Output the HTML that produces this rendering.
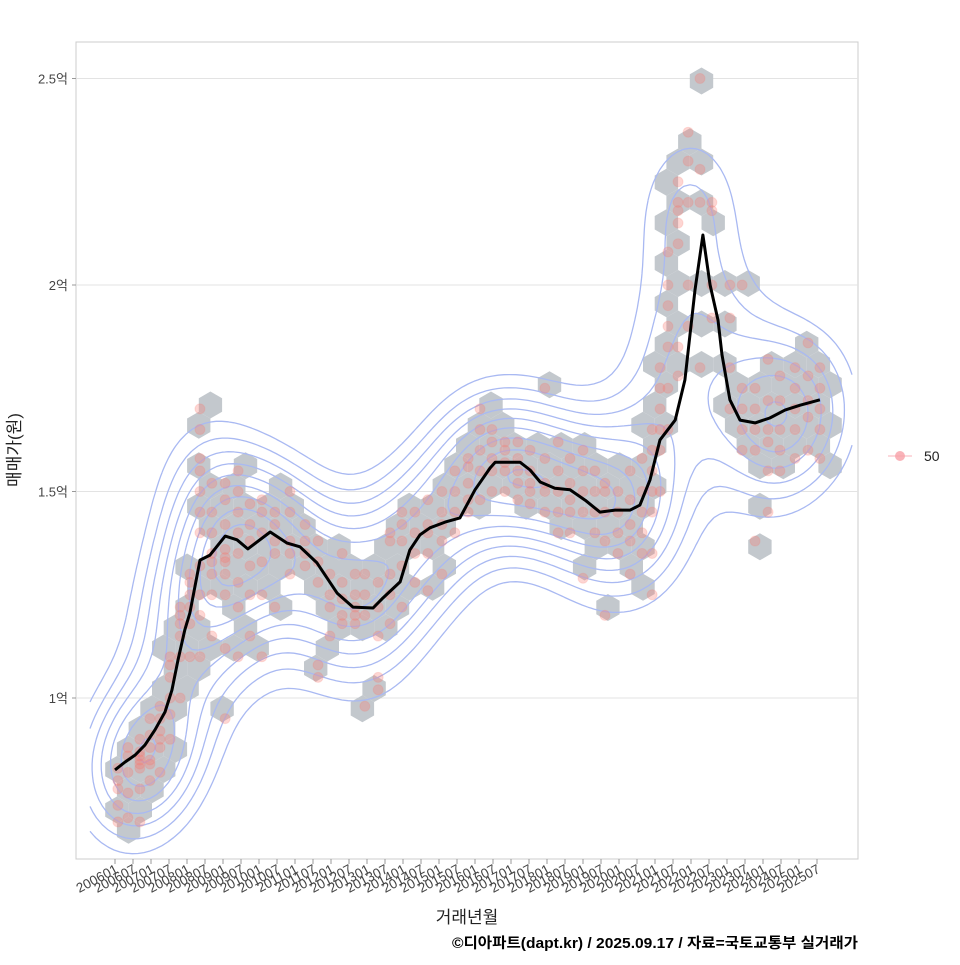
<!DOCTYPE html>
<html><head><meta charset="utf-8">
<style>
body{margin:0;background:#fff;}
svg text{font-family:"Liberation Sans","Noto Sans CJK KR",sans-serif;}
</style></head>
<body>
<svg id="chart" width="960" height="960" viewBox="0 0 960 960" xmlns="http://www.w3.org/2000/svg">
<rect x="0" y="0" width="960" height="960" fill="#fff"/>
<rect x="76" y="42" width="782" height="817" fill="#fff" stroke="#cccccc" stroke-width="1"/>
<g id="grid"></g>
<g id="hexes"></g>
<g id="contours"></g>
<g id="points"></g>
<g id="line"></g>
<g id="axes"></g>
<text x="20" y="450" font-size="17" fill="#222" text-anchor="middle" transform="rotate(-90 20 450)">매매가(원)</text>
<text x="467" y="923" font-size="17" fill="#222" text-anchor="middle">거래년월</text>
<text x="858" y="948" font-size="14.5" font-weight="bold" fill="#000" text-anchor="end" textLength="406" lengthAdjust="spacingAndGlyphs">©디아파트(dapt.kr) / 2025.09.17 / 자료=국토교통부 실거래가</text>
<g>
<line x1="888" y1="456" x2="912" y2="456" stroke="#f8a0a8" stroke-width="1" opacity="0.8"/>
<circle cx="900" cy="456" r="5" fill="#f8a0a8" opacity="0.8"/>
<text x="924" y="461" font-size="14" fill="#222">50</text>
</g>
</svg>
<script>
const yTicks=[1,1.5,2,2.5];
const yTickLabels=["1억","1.5억","2억","2.5억"];
const xTickYears=[];const xTickLabels=[];
for(let y=2006;y<=2025;y++){xTickYears.push(y);xTickLabels.push(y+"01");xTickYears.push(y+0.5);xTickLabels.push(y+"07");}
const lineYears=[2006.00,2006.28,2006.56,2006.83,2007.11,2007.39,2007.58,2007.75,2007.94,2008.08,2008.36,2008.64,2009.06,2009.39,2009.69,2010.31,2010.78,2011.14,2011.61,2012.17,2012.61,2013.17,2013.44,2013.92,2014.19,2014.47,2014.75,2015.17,2015.58,2016.00,2016.42,2016.56,2017.25,2017.53,2017.81,2018.22,2018.64,2019.06,2019.47,2019.89,2020.31,2020.58,2020.86,2021.14,2021.56,2021.83,2022.11,2022.33,2022.53,2022.75,2022.86,2023.08,2023.36,2023.78,2024.19,2024.61,2025.03,2025.58];
const lineValues=[0.826,0.845,0.862,0.886,0.923,0.966,1.019,1.092,1.165,1.206,1.334,1.346,1.392,1.383,1.361,1.402,1.375,1.366,1.327,1.254,1.220,1.218,1.242,1.281,1.358,1.395,1.412,1.426,1.436,1.504,1.557,1.571,1.571,1.552,1.523,1.508,1.504,1.479,1.450,1.455,1.455,1.467,1.528,1.625,1.673,1.770,1.988,2.121,2.000,1.915,1.831,1.722,1.673,1.666,1.678,1.697,1.709,1.722];
const ptYears=[2006.08,2006.36,2006.69,2006.97,2007.25,2007.53,2007.81,2008.08,2008.36,2008.69,2009.06,2009.42,2009.75,2010.08,2010.44,2010.86,2011.28,2011.64,2011.97,2012.31,2012.67,2012.94,2013.31,2013.64,2013.97,2014.33,2014.69,2015.08,2015.44,2015.81,2016.14,2016.47,2016.83,2017.19,2017.53,2017.94,2018.31,2018.64,2019.0,2019.33,2019.61,2019.97,2020.31,2020.64,2020.92,2021.14,2021.36,2021.64,2021.92,2022.25,2022.58,2023.08,2023.42,2023.78,2024.14,2024.47,2024.89,2025.25,2025.58];
const ptValues=[[0.70,0.74,0.78,0.80,0.83],[0.71,0.77,0.82,0.86,0.88],[0.70,0.78,0.83,0.84,0.85,0.86,0.87,0.90],[0.80,0.84,0.85,0.88,0.91,0.95],[0.82,0.88,0.90,0.92,0.95,0.98],[0.90,0.96,1.00,1.05,1.08,1.10],[1.00,1.10,1.15,1.18,1.20,1.22],[1.10,1.18,1.22,1.25,1.28,1.30],[1.10,1.20,1.25,1.32,1.40,1.45,1.50,1.55,1.58,1.65,1.70],[1.15,1.25,1.30,1.33,1.35,1.40,1.45,1.52],[0.95,1.12,1.25,1.30,1.33,1.34,1.36,1.42,1.48,1.52],[1.10,1.22,1.28,1.35,1.40,1.45,1.50,1.55],[1.15,1.25,1.32,1.38,1.42,1.47],[1.10,1.25,1.33,1.40,1.45,1.48],[1.22,1.35,1.38,1.42,1.45],[1.30,1.35,1.38,1.45,1.50],[1.32,1.35,1.38,1.42],[1.05,1.08,1.28,1.33,1.38],[1.15,1.22,1.25,1.30],[1.18,1.20,1.24,1.28,1.35],[1.18,1.20,1.22,1.25,1.30],[0.98,1.20,1.25,1.30],[1.02,1.05,1.15,1.22,1.28],[1.18,1.25,1.30,1.38,1.40],[1.22,1.32,1.38,1.42,1.45],[1.28,1.35,1.40,1.45],[1.26,1.35,1.40,1.42,1.48],[1.30,1.38,1.42,1.45,1.50],[1.40,1.45,1.50,1.55],[1.45,1.48,1.52,1.56,1.58],[1.48,1.55,1.60,1.65,1.70],[1.50,1.55,1.58,1.62,1.65],[1.50,1.55,1.57,1.60,1.62],[1.48,1.52,1.55,1.58,1.62],[1.47,1.50,1.52,1.55,1.60],[1.45,1.50,1.52,1.58,1.75],[1.40,1.45,1.50,1.55,1.62],[1.40,1.45,1.48,1.52,1.58],[1.29,1.45,1.50,1.55,1.60],[1.40,1.45,1.50,1.55],[1.20,1.38,1.45,1.50,1.52],[1.35,1.40,1.45,1.50],[1.30,1.38,1.42,1.48,1.55],[1.35,1.40,1.45,1.50,1.58],[1.25,1.35,1.45,1.50,1.55,1.60,1.65],[1.50,1.60,1.65,1.70,1.75,1.80],[1.65,1.75,1.85,1.90,1.95,2.00,2.08],[1.78,1.85,2.10,2.15,2.18,2.20,2.25],[1.90,2.00,2.20,2.30,2.37],[1.80,2.20,2.28,2.50],[1.92,2.00,2.18,2.20],[1.70,1.80,1.92,2.00],[1.60,1.65,1.70,1.75,2.00],[1.38,1.60,1.65,1.70,1.75],[1.45,1.55,1.62,1.65,1.72,1.82],[1.55,1.60,1.65,1.72,1.78],[1.58,1.65,1.70,1.75,1.80],[1.60,1.68,1.72,1.78,1.86],[1.58,1.65,1.70,1.75,1.80]];

const NS="http://www.w3.org/2000/svg";
const X=yr=>115+(yr-2006)*36;
const Y=v=>698-(v-1)*413;
function mk(tag,parent,attrs){const e=document.createElementNS(NS,tag);for(const k in attrs)e.setAttribute(k,attrs[k]);parent.appendChild(e);return e;}
const grid=document.getElementById('grid'),axes=document.getElementById('axes');
yTicks.forEach((v,i)=>{
  const g=mk('line',grid,{x1:76,x2:858,y1:Y(v),y2:Y(v),stroke:'#e3e3e3','stroke-width':1});
  
  
  mk('line',axes,{x1:72,x2:76,y1:Y(v),y2:Y(v),stroke:'#999'});
  const t=mk('text',axes,{x:68,y:Y(v)+5,'font-size':13,fill:'#444','text-anchor':'end'});
  t.textContent=yTickLabels[i];
  
  
});
xTickYears.forEach((yr,i)=>{
  const x=X(yr);
  mk('line',axes,{x1:x,x2:x,y1:859,y2:864,stroke:'#999'});
  const t=mk('text',axes,{x:x+4,y:872,'font-size':13.5,fill:'#444','text-anchor':'end',transform:`rotate(-28 ${x+4} 872)`});
  t.textContent=xTickLabels[i];
  
  
});
const pts=[];
ptYears.forEach((yr,i)=>ptValues[i].forEach(v=>pts.push([X(yr),Y(v)])));
const r=13.5,hw=r*Math.sqrt(3),vh=1.5*r;
const bins={};
pts.forEach(([px,py])=>{
  let best=null,bd=1e9;
  const row0=Math.round(py/vh);
  for(let row=row0-1;row<=row0+1;row++){
    const off=(row&1)?hw/2:0;
    const col=Math.round((px-off)/hw);
    for(let c=col-1;c<=col+1;c++){
      const cx=c*hw+off,cy=row*vh,d=(cx-px)**2+(cy-py)**2;
      if(d<bd){bd=d;best=[c,row,cx,cy];}
    }
  }
  bins[best[0]+','+best[1]]=best;
});
const hexG=document.getElementById('hexes');
Object.values(bins).forEach(b=>{
  let d='';for(let k=0;k<6;k++){const a=Math.PI/3*k+Math.PI/6;d+=(k?'L':'M')+(b[2]+r*Math.cos(a)).toFixed(1)+','+(b[3]+r*Math.sin(a)).toFixed(1);}
  const h=mk('path',hexG,{d:d+'Z',fill:'#c3c8cd'});
  
  
});
const step=6,gx0=90,gy0=50,nx=Math.ceil((850-gx0)/step),ny=Math.ceil((850-gy0)/step);
const hx=42,hy=50;const Dd=[];let mx=0;
for(let j=0;j<=ny;j++){Dd.push([]);for(let i=0;i<=nx;i++){const x=gx0+i*step,y=gy0+j*step;let s=0;for(const p of pts){const a=(x-p[0])/hx,b=(y-p[1])/hy;s+=Math.exp(-0.5*(a*a+b*b));}Dd[j].push(s);if(s>mx)mx=s;}}
const cG=document.getElementById('contours');let cd='';
for(let L=1;L<=9;L++){
  const lev=mx*(0.12+L*0.09);
  for(let j=0;j<ny;j++)for(let i=0;i<nx;i++){
    const v=[Dd[j][i],Dd[j][i+1],Dd[j+1][i+1],Dd[j+1][i]];
    const cs=[[0,0],[1,0],[1,1],[0,1]];const e=[];
    for(let k=0;k<4;k++){const a=v[k],b=v[(k+1)%4];if((a>=lev)!==(b>=lev)){const t=(lev-a)/(b-a);const p=cs[k],q=cs[(k+1)%4];e.push([gx0+(i+p[0]+t*(q[0]-p[0]))*step,gy0+(j+p[1]+t*(q[1]-p[1]))*step]);}}
    for(let k=0;k+1<e.length;k+=2)cd+=`M${e[k][0].toFixed(1)},${e[k][1].toFixed(1)}L${e[k+1][0].toFixed(1)},${e[k+1][1].toFixed(1)}`;
  }
}
const cp=mk('path',cG,{d:cd,fill:'none',stroke:'#a9b9f2','stroke-width':1.3});


const pG=document.getElementById('points');
pts.forEach(p=>{
  const c=mk('circle',pG,{cx:p[0],cy:p[1],r:5,fill:'#f8766d','fill-opacity':0.3,stroke:'#f8766d','stroke-opacity':0.2});
  
  
});
let ld='';lineYears.forEach((yr,i)=>ld+=(i?'L':'M')+X(yr).toFixed(1)+','+Y(lineValues[i]).toFixed(1));
const lp=mk('path',document.getElementById('line'),{d:ld,fill:'none',stroke:'#000','stroke-width':3,'stroke-linejoin':'round'});


</script>
</body></html>
